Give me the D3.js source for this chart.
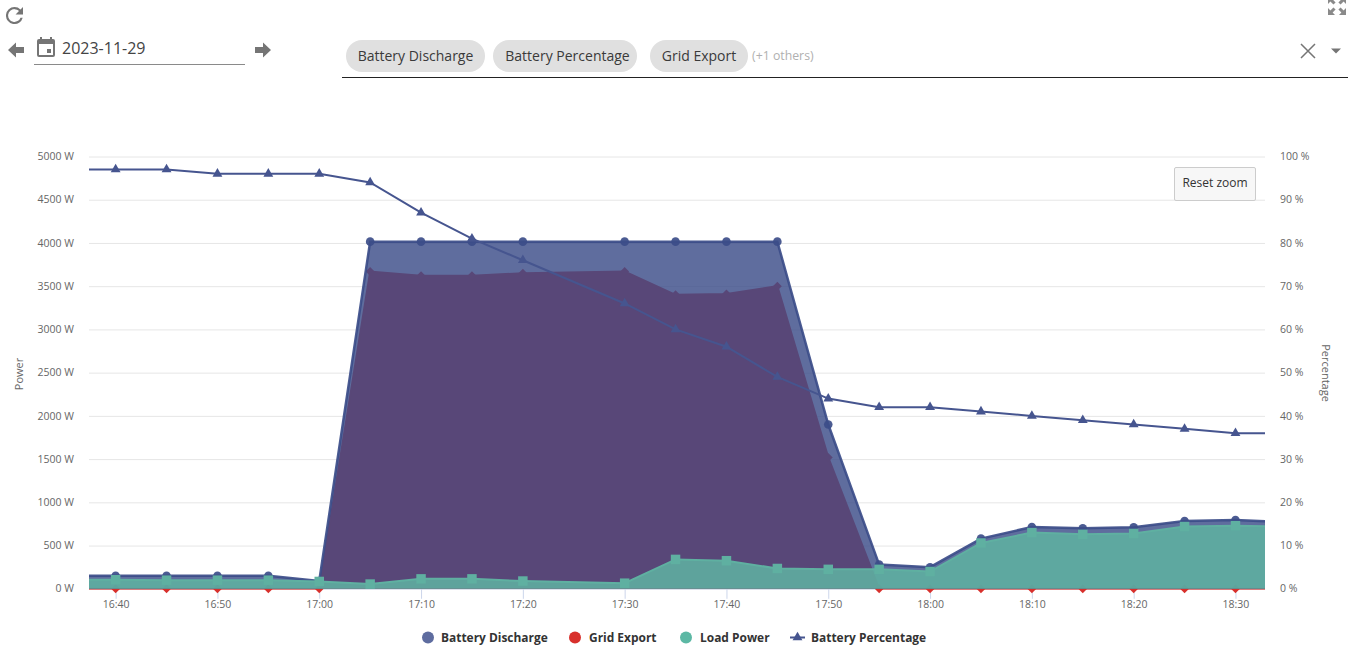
<!doctype html>
<html>
<head>
  <meta charset="utf-8">
  <title>Battery power</title>
  <script src="https://d3js.org/d3.v7.min.js"></script>
  <style>
    html, body { margin: 0; padding: 0; background: #fff; overflow: hidden; }
    body { width: 1349px; height: 658px; position: relative; font-family: "Open Sans", sans-serif; }
    .abs { position: absolute; }
    .chip { position: absolute; top: 40px; height: 32px; line-height: 32px; background: #e0e0e0; border-radius: 16px;
            font-size: 14px; color: #3a3a3a; text-align: center; box-sizing: border-box; }
    #date { left: 62px; top: 37px; font-size: 16px; color: #444; line-height: 22px; }
    #dateline { left: 34px; top: 64px; width: 211px; height: 1px; background: #8a8a8a; }
    #selectline { left: 342px; top: 77px; width: 1006px; height: 1px; background: #222; }
    #others { left: 752px; top: 47px; font-size: 12.3px; color: #b0b0b0; line-height: 18px; }
    #reset { left: 1174px; top: 167px; width: 80px; height: 32px; line-height: 29px; text-align: center; background: #f7f7f7;
             border: 1px solid #cccccc; border-radius: 2px; font-size: 12px; color: #333; }
    svg text { font-family: "Open Sans", sans-serif; }
    .axis path { display: none; }
    .axis text { font-size: 10.5px; fill: #666; }
    .legend-text { font-size: 11.95px; font-weight: 700; fill: #333; }
    .axis-title { font-size: 11px; fill: #666; }
  </style>
</head>
<body>
  <svg class="abs" style="left:6px;top:7px" width="17" height="17" viewBox="4 4 16 16">
    <path fill="#757575" d="M17.65 6.35A7.96 7.96 0 0 0 12 4a8 8 0 1 0 7.73 10h-2.08A6 6 0 1 1 12 6c1.66 0 3.14.69 4.22 1.78L13 11h7V4l-2.35 2.35z"/>
  </svg>
  <svg class="abs" style="left:8px;top:42px" width="16" height="16" viewBox="0 0 16 16">
    <path fill="#757575" d="M8 0.5 L0 8 L8 15.5 V11 H16 V5 H8 Z"/>
  </svg>
  <svg class="abs" style="left:255px;top:42px" width="16" height="16" viewBox="0 0 16 16">
    <path fill="#757575" d="M8 0.5 L16 8 L8 15.5 V11 H0 V5 H8 Z"/>
  </svg>
  <svg class="abs" style="left:34px;top:35px" width="24" height="24" viewBox="0 0 24 24">
    <path fill="#757575" d="M19 4h-1V2h-2v2H8V2H6v2H5a2 2 0 0 0-2 2v14a2 2 0 0 0 2 2h14a2 2 0 0 0 2-2V6a2 2 0 0 0-2-2zm0 16H5V9h14v11zm-2-6h-4v4h4v-4z"/>
  </svg>
  <div id="date" class="abs">2023-11-29</div>
  <div id="dateline" class="abs"></div>

  <div class="chip" style="left:346px;width:139px">Battery Discharge</div>
  <div class="chip" style="left:493px;width:144px;padding-left:5px">Battery Percentage</div>
  <div class="chip" style="left:650px;width:98px">Grid Export</div>
  <div id="others" class="abs">(+1 others)</div>
  <div id="selectline" class="abs"></div>
  <svg class="abs" style="left:1300px;top:43px" width="16" height="16" viewBox="0 0 16 16">
    <path stroke="#757575" stroke-width="1.5" d="M1 1 L15 15 M15 1 L1 15"/>
  </svg>
  <svg class="abs" style="left:1331px;top:48px" width="10" height="6" viewBox="0 0 10 6">
    <path fill="#757575" d="M0 0.5 H10 L5 5.5 Z"/>
  </svg>
  <svg class="abs" style="left:1328px;top:-3px" width="18" height="18" viewBox="0 0 18 18">
    <path fill="#8a8a8a" d="M0 11 V18 H7 L4.6 15.6 L7.6 12.6 L5.4 10.4 L2.4 13.4 Z M18 11 V18 H11 L13.4 15.6 L10.4 12.6 L12.6 10.4 L15.6 13.4 Z M0 7 V0 H7 L4.6 2.4 L7.6 5.4 L5.4 7.6 L2.4 4.6 Z M18 7 V0 H11 L13.4 2.4 L10.4 5.4 L12.6 7.6 L15.6 4.6 Z"/>
  </svg>

  <div id="chart" class="abs" style="left:0;top:0"></div>
  <div id="reset" class="abs">Reset zoom</div>

  <script>
    // values, 5 minute readings (no reading at 17:25)
    var times = ["16:35","16:40","16:45","16:50","16:55","17:00","17:05","17:10","17:15","17:20","17:30","17:35",
                 "17:40","17:45","17:50","17:55","18:00","18:05","18:10","18:15","18:20","18:25","18:30","18:35"];
    var batteryDischarge = [150,150,150,150,150,90,4015,4015,4015,4015,4015,4015,4015,4015,1900,280,250,580,715,700,712,785,795,770];
    var gridExport = [0,0,0,0,0,0,3670,3620,3620,3650,3670,3400,3410,3500,1520,0,0,0,0,0,0,0,0,0];
    var loadPower = [105,105,100,100,100,85,55,115,115,90,65,340,325,235,225,225,200,530,650,630,640,720,730,720];
    var batteryPercentage = [97,97,97,96,96,96,94,87,81,76,66,60,56,49,44,42,42,41,40,39,38,37,36,36];

    var powerTicks = [0,500,1000,1500,2000,2500,3000,3500,4000,4500,5000];
    var percentTicks = [0,10,20,30,40,50,60,70,80,90,100];
    var timeTicks = ["16:40","16:50","17:00","17:10","17:20","17:30","17:40","17:50","18:00","18:10","18:20","18:30"];

    var parseTime = d3.timeParse("%Y-%m-%d %H:%M:%S");
    function toDate(t, s) { return parseTime("2023-11-29 " + t + ":" + (s || "00")); }

    var left = 89, right = 1265, top_ = 156.5, bottom = 588.8;

    var x = d3.scaleTime().domain([toDate("16:37", "23"), toDate("18:32", "54")]).range([left, right]);
    var yPower = d3.scaleLinear().domain([0, 5000]).range([bottom, top_]);
    var yPercent = d3.scaleLinear().domain([0, 100]).range([bottom, top_]);

    var svg = d3.select("#chart").append("svg")
        .attr("width", 1349)
        .attr("height", 658)
        .style("display", "block");

    svg.append("clipPath").attr("id", "plot")
      .append("rect").attr("x", left).attr("y", 0).attr("width", right - left).attr("height", bottom + 1);

    // grid + left axis
    var yAxisLeft = svg.append("g").attr("class", "axis")
        .attr("transform", "translate(" + left + ",0)")
        .call(d3.axisLeft(yPower).tickValues(powerTicks).tickSize(0).tickPadding(15).tickFormat(function(d) { return d + " W"; }));
    yAxisLeft.selectAll("line").attr("x2", right - left).attr("stroke", "#e6e6e6");
    yAxisLeft.selectAll("text").attr("dy", "0.3em");

    var yAxisRight = svg.append("g").attr("class", "axis")
        .attr("transform", "translate(" + right + ",0)")
        .call(d3.axisRight(yPercent).tickValues(percentTicks).tickSize(0).tickPadding(15).tickFormat(function(d) { return d + " %"; }));
    yAxisRight.selectAll("text").attr("dy", "0.3em");

    // bottom axis
    var xAxis = svg.append("g").attr("class", "axis")
        .attr("transform", "translate(0," + bottom + ")")
        .call(d3.axisBottom(x).tickValues(timeTicks.map(function(t) { return toDate(t); })).tickSize(10).tickPadding(2).tickFormat(d3.timeFormat("%H:%M")));
    xAxis.selectAll("line").attr("stroke", "#ccd6eb");
    svg.append("line").attr("x1", left).attr("x2", right).attr("y1", bottom + 0.2).attr("y2", bottom + 0.2).attr("stroke", "#ccd6eb");

    svg.append("text").attr("class", "axis-title").attr("text-anchor", "middle")
        .attr("transform", "translate(23,374) rotate(-90)").text("Power");
    svg.append("text").attr("class", "axis-title").attr("text-anchor", "middle")
        .attr("transform", "translate(1322,373) rotate(90)").text("Percentage");

    // square diamond, d3's own is too narrow
    var wideDiamond = {
      draw: function(context, size) {
        var r = Math.sqrt(size / 2);
        context.moveTo(0, -r);
        context.lineTo(r, 0);
        context.lineTo(0, r);
        context.lineTo(-r, 0);
        context.closePath();
      }
    };

    var symbolPath = {
      circle: d3.symbol().type(d3.symbolCircle).size(58)(),
      diamond: d3.symbol().type(wideDiamond).size(40)(),
      square: d3.symbol().type(d3.symbolSquare).size(90)(),
      triangle: d3.symbol().type(d3.symbolTriangle).size(42)()
    };

    function rows(values) {
      return times.map(function(t, i) { return { date: toDate(t), value: values[i] }; });
    }

    function drawArea(values, color, fillOpacity, lineWidth, lineOpacity, symbol) {
      var data = rows(values);
      var g = svg.append("g");
      var clipped = g.append("g").attr("clip-path", "url(#plot)");
      clipped.append("path").datum(data)
          .attr("fill", color).attr("fill-opacity", fillOpacity)
          .attr("d", d3.area().x(function(d) { return x(d.date); }).y0(yPower(0)).y1(function(d) { return yPower(d.value); }));
      clipped.append("path").datum(data)
          .attr("fill", "none").attr("stroke", color).attr("stroke-width", lineWidth).attr("stroke-opacity", lineOpacity)
          .attr("d", d3.line().x(function(d) { return x(d.date); }).y(function(d) { return yPower(d.value); }));
      g.selectAll(".pt").data(data.slice(1, -1)).enter().append("path")
          .attr("fill", color).attr("fill-opacity", lineOpacity)
          .attr("d", symbol)
          .attr("transform", function(d) { return "translate(" + x(d.date) + "," + yPower(d.value) + ")"; });
    }

    // red first, blue and green lie over it
    drawArea(gridExport, "#d8302c", 1, 2, 1, symbolPath.diamond);
    drawArea(batteryDischarge, "#3c4d89", 0.82, 2.5, 0.92, symbolPath.circle);
    drawArea(loadPower, "#5fb0a1", 0.88, 2, 1, symbolPath.square);

    // battery percentage line on the right axis
    var pctData = rows(batteryPercentage);
    svg.append("path").datum(pctData)
        .attr("clip-path", "url(#plot)")
        .attr("fill", "none").attr("stroke", "#46558f").attr("stroke-width", 2)
        .attr("d", d3.line().x(function(d) { return x(d.date); }).y(function(d) { return yPercent(d.value); }));
    svg.selectAll(".pct").data(pctData.slice(1, -1)).enter().append("path")
        .attr("fill", "#46558f")
        .attr("d", symbolPath.triangle)
        .attr("transform", function(d) { return "translate(" + x(d.date) + "," + yPercent(d.value) + ")"; });

    // legend
    var legendY = 637.5;
    svg.append("circle").attr("cx", 428).attr("cy", legendY).attr("r", 6).attr("fill", "#5e6c9f");
    svg.append("text").attr("class", "legend-text").attr("x", 441).attr("y", legendY + 4.5).text("Battery Discharge");
    svg.append("circle").attr("cx", 575).attr("cy", legendY).attr("r", 6).attr("fill", "#d8302c");
    svg.append("text").attr("class", "legend-text").attr("x", 589).attr("y", legendY + 4.5).text("Grid Export");
    svg.append("circle").attr("cx", 686).attr("cy", legendY).attr("r", 6).attr("fill", "#5cb8a4");
    svg.append("text").attr("class", "legend-text").attr("x", 700).attr("y", legendY + 4.5).text("Load Power");
    svg.append("line").attr("x1", 790).attr("x2", 805).attr("y1", legendY).attr("y2", legendY).attr("stroke", "#46558f").attr("stroke-width", 2);
    svg.append("path").attr("d", symbolPath.triangle).attr("fill", "#46558f").attr("transform", "translate(797.5," + legendY + ")");
    svg.append("text").attr("class", "legend-text").attr("x", 811).attr("y", legendY + 4.5).text("Battery Percentage");
  </script>
</body>
</html>
